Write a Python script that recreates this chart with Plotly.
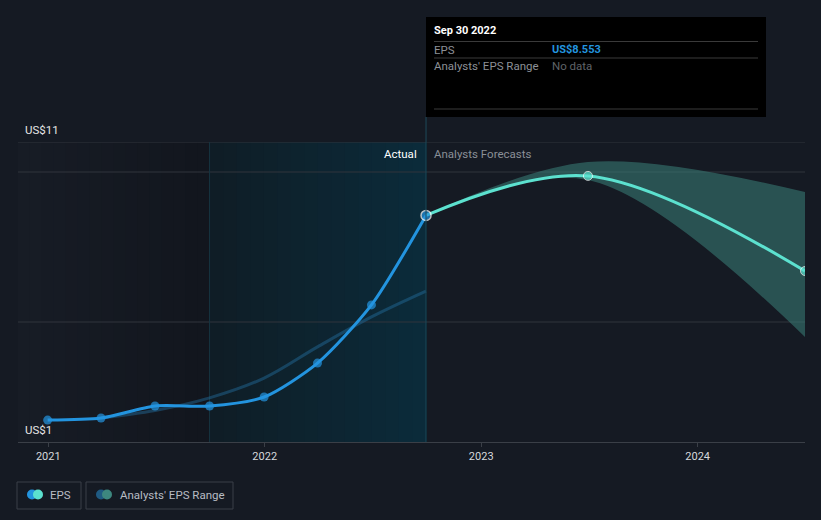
import plotly.graph_objects as go
import pandas as pd

# ---- data ----
eps_dates = ["2020-12-31", "2021-03-31", "2021-06-30", "2021-09-30",
             "2021-12-31", "2022-03-31", "2022-06-30", "2022-09-30"]
eps_values = [1.73, 1.80, 2.20, 2.20, 2.50, 3.63, 5.57, 8.553]

past_est_dates = ["2021-03-31", "2021-06-30", "2021-09-30", "2021-12-31",
                  "2022-03-31", "2022-06-30", "2022-09-30"]
past_est_values = [1.80, 2.05, 2.47, 3.13, 4.17, 5.17, 6.03]

fc_dates = ["2022-09-30", "2023-06-30", "2024-06-30"]
fc_values = [8.553, 9.87, 6.70]
fc_high = [8.553, 10.33, 9.33]
fc_low = [8.553, 9.73, 4.50]

y_tick_labels = {11: "US$11", 1: "US$1"}
y_grid_vals = [11, 10, 5]
x_tick_vals = ["2021-01-01", "2022-01-01", "2023-01-01", "2024-01-01"]
x_tick_text = ["2021", "2022", "2023", "2024"]

# ---- layout geometry helpers ----
L, R, T, B = 18, 805, 142, 442
W, H = 821, 520
def PX(x): return (x - L) / (R - L)
def PY(y): return (B - y) / (B - T)

BG = "#151a23"
FONT = "Roboto, 'Open Sans', sans-serif"
x_start, x_end = "2020-11-11", "2024-06-30"
split_past, split_now = "2021-09-30", "2022-09-30"

fig = go.Figure()

# forecast band
fig.add_trace(go.Scatter(x=fc_dates, y=fc_low, mode="lines",
                         line=dict(width=0, shape="spline", color="rgba(0,0,0,0)"),
                         hoverinfo="skip", showlegend=False))
fig.add_trace(go.Scatter(x=fc_dates, y=fc_high, mode="lines",
                         line=dict(width=0, shape="spline", color="rgba(0,0,0,0)"),
                         fill="tonexty", fillcolor="rgba(58,130,122,0.55)",
                         hoverinfo="skip", showlegend=False))

# past estimates line
fig.add_trace(go.Scatter(x=past_est_dates, y=past_est_values, mode="lines",
                         line=dict(width=3, shape="spline", color="rgba(35,110,160,0.45)"),
                         hoverinfo="skip", showlegend=False))

# forecast line
fig.add_trace(go.Scatter(x=fc_dates, y=fc_values, mode="lines+markers",
                         line=dict(width=3, shape="spline", color="#5ce1cf"),
                         marker=dict(size=[0, 9, 9], color="#5ce1cf"),
                         showlegend=False))

# EPS actual
fig.add_trace(go.Scatter(x=eps_dates, y=eps_values, mode="lines+markers",
                         line=dict(width=3, shape="spline", smoothing=0.7, color="#2394df"),
                         marker=dict(size=[9] * (len(eps_values) - 1) + [10], color="#2394df",
                                     line=dict(width=[0] * (len(eps_values) - 1) + [1.5], color="white")),
                         showlegend=False))

shapes = []
def gradient(start, end, c0, c1, n=16):
    ds = pd.date_range(start, end, periods=n + 1)
    for i in range(n):
        t = i / (n - 1)
        c = tuple(int(round(c0[k] + (c1[k] - c0[k]) * t)) for k in range(3))
        shapes.append(dict(type="rect", xref="x", yref="y", x0=ds[i], x1=end,
                           y0=1, y1=11, line=dict(width=0), fillcolor="rgb(%d,%d,%d)" % c,
                           layer="below"))
gradient(x_start, split_past, (23, 28, 37), (18, 22, 30))
gradient(split_past, split_now, (15, 29, 38), (11, 43, 58))

# gridlines
for v in y_grid_vals:
    shapes.append(dict(type="line", xref="x", yref="y", x0=x_start, x1=x_end, y0=v, y1=v,
                       line=dict(color="#30353d", width=1), layer="below"))
# vertical lines
shapes.append(dict(type="line", xref="x", yref="y", x0=split_past, x1=split_past, y0=1, y1=11,
                   line=dict(color="#173441", width=1), layer="below"))
shapes.append(dict(type="line", xref="x", yref="paper", x0=split_now, x1=split_now,
                   y0=0, y1=PY(117), line=dict(color="#1d4a5a", width=1)))
# tooltip box
shapes.append(dict(type="rect", xref="paper", yref="paper", x0=PX(426), x1=PX(766),
                   y0=PY(117), y1=PY(17), fillcolor="#000000", line=dict(width=0)))
for yy in [41.5, 58, 109]:
    shapes.append(dict(type="line", xref="paper", yref="paper", x0=PX(434), x1=PX(758),
                       y0=PY(yy), y1=PY(yy), line=dict(color="#3a3a3a", width=1)))
# legend boxes
for (x0, x1) in [(17, 81), (86, 233)]:
    shapes.append(dict(type="rect", xref="paper", yref="paper", x0=PX(x0), x1=PX(x1),
                       y0=PY(509), y1=PY(482), line=dict(color="#3a3f48", width=1),
                       fillcolor="rgba(0,0,0,0)"))
def circ(cx, cy, r, color):
    return dict(type="circle", xref="paper", yref="paper", x0=PX(cx - r), x1=PX(cx + r),
                y0=PY(cy + r), y1=PY(cy - r), fillcolor=color, line=dict(width=0))
shapes += [circ(32, 494.5, 5, "#2394df"), circ(38, 494.5, 5, "#5ce1cf"),
           circ(101, 494.5, 5, "#1f5a82"), circ(107, 494.5, 5, "#3d877f")]

ann = []
def text(x, y, s, color, size=11, anchor="left", bold=False):
    ann.append(dict(xref="paper", yref="paper", x=PX(x), y=PY(y), text=("<b>%s</b>" % s) if bold else s,
                    showarrow=False, xanchor=anchor, yanchor="middle",
                    font=dict(color=color, size=size, family=FONT)))

for v, lab in y_tick_labels.items():
    ypix = B - (v - 1) * (B - T) / 10
    text(23, ypix - 12, lab, "#e6e6e6", 11.5)
text(419, 154, "Actual", "#ffffff", 11.5, anchor="right")
text(432, 154, "Analysts Forecasts", "#8a8f97", 11.5)
text(432, 31, "Sep 30 2022", "#ffffff", 11, bold=True)
text(432, 49.5, "EPS", "#8d9097", 11.5)
text(550, 49.5, "US$8.553", "#2394df", 11, bold=True)
text(432, 66, "Analysts' EPS Range", "#8d9097", 11.5)
text(550, 66, "No data", "#5f6368", 11.5)
text(48, 494.5, "EPS", "#b8bcc3", 11.5)
text(118, 494.5, "Analysts' EPS Range", "#b8bcc3", 11.5)

fig.update_layout(
    width=W, height=H,
    margin=dict(l=L, r=W - R, t=T, b=H - B, pad=0),
    paper_bgcolor=BG, plot_bgcolor=BG,
    shapes=shapes, annotations=ann,
    showlegend=False,
    font=dict(family=FONT, color="#d0d3d8"),
    xaxis=dict(type="date", range=[x_start, x_end], tickvals=x_tick_vals, ticktext=x_tick_text,
               showgrid=False, zeroline=False, showline=True, linecolor="#3a3f47", linewidth=1,
               ticks="outside", ticklen=4, tickcolor="#3a3f47",
               tickfont=dict(size=11, color="#d6d8dc", family=FONT)),
    yaxis=dict(range=[1, 11], showgrid=False, zeroline=False, showticklabels=False,
               showline=False, fixedrange=True),
    hovermode=False,
)

fig.write_html("out.html", config={"displayModeBar": False},
               post_script="document.body.style.margin='0';document.body.style.background='%s';" % BG)
